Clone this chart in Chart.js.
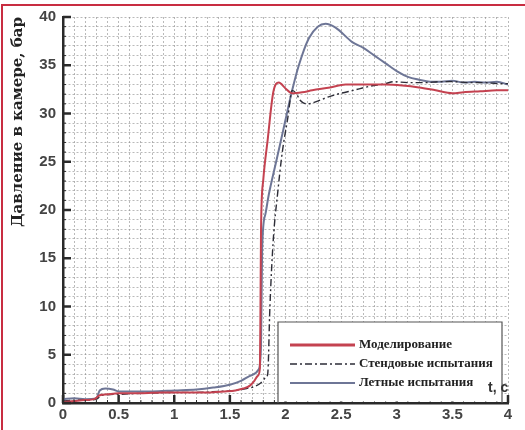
<!DOCTYPE html>
<html><head><meta charset="utf-8">
<script src="https://cdn.jsdelivr.net/npm/chart.js@4"></script>
<style>html,body{margin:0;padding:0;background:#fff}#wrap{width:525px;height:430px;position:relative}</style>
</head><body><div id="wrap"><canvas id="c" width="525" height="430"></canvas></div>
<script>
const xTitle = 't, c';
const yTitle = 'Давление в камере, бар';
const seriesNames = ['Моделирование', 'Стендовые испытания', 'Летные испытания'];

const modTime = [0,0.1,0.2,0.28,0.33,0.4,0.5,0.7,0.9,1.1,1.3,1.45,1.55,1.62,1.68,1.72,1.75,1.77,1.775,1.78,1.8,1.84,1.89,1.94,2.0,2.06,2.15,2.24,2.4,2.54,2.7,2.9,3.05,3.2,3.35,3.5,3.6,3.75,3.9,4.0];
const modValues = [0.1,0.2,0.3,0.4,0.8,0.9,1.0,1.0,1.1,1.1,1.1,1.2,1.3,1.5,1.8,2.3,2.8,3.6,10,18,23.1,27.3,32.2,33.2,32.6,32.1,32.2,32.4,32.7,33.0,33.0,33.0,32.9,32.7,32.4,32.1,32.2,32.3,32.4,32.4];

const benchTime = [0,0.1,0.2,0.3,0.35,0.5,0.7,1.0,1.2,1.4,1.55,1.65,1.72,1.78,1.82,1.84,1.86,1.89,1.93,1.97,2.02,2.06,2.1,2.13,2.16,2.2,2.27,2.38,2.5,2.61,2.75,2.9,2.97,3.1,3.25,3.4,3.5,3.65,3.8,3.9,4.0];
const benchValues = [0.2,0.3,0.3,0.4,0.8,0.9,1.0,1.1,1.1,1.2,1.3,1.5,1.7,2.1,2.6,3.0,10,16.9,21.8,25.9,29.5,32.4,32.0,31.4,31.1,31.0,31.2,31.7,32.1,32.4,32.8,33.1,33.3,33.2,33.2,33.3,33.3,33.2,33.2,33.1,33.1];

const flightTime = [0,0.1,0.2,0.3,0.33,0.38,0.45,0.5,0.6,0.8,1.0,1.2,1.35,1.5,1.6,1.7,1.76,1.78,1.79,1.82,1.85,1.92,1.98,2.06,2.12,2.21,2.29,2.36,2.45,2.6,2.7,2.8,2.9,3.0,3.1,3.2,3.3,3.4,3.5,3.6,3.7,3.8,3.9,4.0];
const flightValues = [0.4,0.5,0.4,0.5,1.3,1.5,1.4,1.2,1.2,1.2,1.3,1.4,1.6,1.9,2.3,2.9,3.5,6,16,19.6,21.6,25.2,28.3,32.4,35.0,37.8,39.0,39.3,38.9,37.4,36.8,36.0,35.2,34.4,33.8,33.5,33.3,33.3,33.4,33.2,33.3,33.2,33.3,33.0];

const xMin = 0, xMax = 4, xMinorStep = 0.1, xMajorStep = 0.5;
const yMin = 0, yMax = 40, yMinorStep = 1, yMajorStep = 5;

const toPts = (t, v) => t.map((x, i) => ({x, y: v[i]}));
const isMult = (v, s) => Math.abs(v / s - Math.round(v / s)) < 1e-6;

const frame = {
  id: 'frame',
  beforeDraw(chart) {
    const c = chart.ctx;
    c.save();
    c.fillStyle = '#fff';
    c.fillRect(0, 0, chart.width, chart.height);
    c.strokeStyle = 'rgb(200,45,65)';
    c.lineWidth = 2;
    c.beginPath();
    c.moveTo(2, chart.height); c.lineTo(2, 5); c.lineTo(chart.width, 5);
    c.stroke();
    c.restore();
  }
};

const innerTicks = {
  id: 'innerTicks',
  afterDatasetsDraw(chart) {
    const c = chart.ctx, xs = chart.scales.x, ys = chart.scales.y;
    const a = chart.chartArea;
    c.save();
    c.strokeStyle = '#2a2a2a';
    ys.ticks.forEach(t => {
      const py = ys.getPixelForValue(t.value);
      const major = isMult(t.value, yMajorStep);
      c.lineWidth = major ? 2.5 : 1;
      c.beginPath(); c.moveTo(a.left, py); c.lineTo(a.left + (major ? 8 : 3), py); c.stroke();
    });
    xs.ticks.forEach(t => {
      const px = xs.getPixelForValue(t.value);
      const major = isMult(t.value, xMajorStep);
      c.lineWidth = major ? 2.5 : 1;
      c.beginPath(); c.moveTo(px, a.bottom); c.lineTo(px, a.bottom - (major ? 8 : 3)); c.stroke();
    });
    c.restore();
  }
};

const boxLegend = {
  id: 'boxLegend',
  afterDraw(chart) {
    const c = chart.ctx, a = chart.chartArea;
    const bx = 278, by = 322, bw = 224, bh = a.bottom - 1.5 - by;
    c.save();
    c.fillStyle = '#fff';
    c.fillRect(bx, by, bw, bh);
    c.strokeStyle = '#555';
    c.lineWidth = 1.2;
    c.beginPath(); c.moveTo(bx, a.bottom); c.lineTo(bx, by); c.lineTo(bx + bw, by); c.lineTo(bx + bw, a.bottom); c.stroke();
    const rows = [345, 364, 383];
    c.font = 'bold 13px "Liberation Serif"';
    c.textBaseline = 'middle';
    c.fillStyle = '#222';
    [0, 1, 2].forEach((di, r) => {
      const ds = chart.data.datasets[di];
      c.strokeStyle = ds.borderColor;
      c.lineWidth = ds.borderWidth + (di === 0 ? 1 : 0);
      c.setLineDash(ds.borderDash || []);
      c.beginPath(); c.moveTo(290, rows[r]); c.lineTo(355, rows[r]); c.stroke();
      c.setLineDash([]);
      c.fillText(ds.label, 359, rows[r]);
    });
    c.font = 'bold 14px "Liberation Sans"';
    c.fillStyle = '#333';
    c.fillText(xTitle, 488, 388);
    c.restore();
  }
};

new Chart(document.getElementById('c'), {
  type: 'line',
  data: {
    datasets: [
      {label: seriesNames[0], data: toPts(modTime, modValues), borderColor: 'rgb(196,66,80)', borderWidth: 2},
      {label: seriesNames[1], data: toPts(benchTime, benchValues), borderColor: 'rgb(45,45,55)', borderWidth: 1.4, borderDash: [7,3,2,3]},
      {label: seriesNames[2], data: toPts(flightTime, flightValues), borderColor: 'rgb(110,118,150)', borderWidth: 2}
    ]
  },
  options: {
    responsive: false,
    animation: false,
    events: [],
    layout: {padding: {left: 0, right: 17, top: 17, bottom: 0}},
    elements: {point: {radius: 0}, line: {cubicInterpolationMode: 'monotone', fill: false}},
    plugins: {legend: {display: false}, tooltip: {enabled: false}},
    scales: {
      x: {
        type: 'linear', min: xMin, max: xMax,
        afterFit(s) { s.height = 27; },
        grid: {color: 'rgba(140,140,140,0.6)', lineWidth: 1, drawTicks: false},
        border: {display: true, color: '#2a2a2a', width: 2.5, dash: [2, 2]},
        ticks: {stepSize: xMinorStep, autoSkip: false, maxRotation: 0, padding: 3,
          color: '#444', font: {family: '"Liberation Sans"', size: 15, weight: 'bold'},
          callback: v => isMult(v, xMajorStep) ? String(Math.round(v * 2) / 2) : ''}
      },
      y: {
        type: 'linear', min: yMin, max: yMax,
        afterFit(s) { s.width = 63; },
        grid: {color: 'rgba(140,140,140,0.6)', lineWidth: 1, drawTicks: false},
        border: {display: true, color: '#2a2a2a', width: 2.5, dash: [2, 2]},
        title: {display: true, text: yTitle, align: 'end', color: '#222', padding: {top: 9, bottom: 0},
          font: {family: '"DejaVu Serif"', size: 15, weight: 'bold'}},
        ticks: {stepSize: yMinorStep, autoSkip: false, padding: 7,
          color: '#444', font: {family: '"Liberation Sans"', size: 15, weight: 'bold'},
          callback: v => isMult(v, yMajorStep) ? String(v) : ''}
      }
    }
  },
  plugins: [frame, innerTicks, boxLegend]
});
</script></body></html>
